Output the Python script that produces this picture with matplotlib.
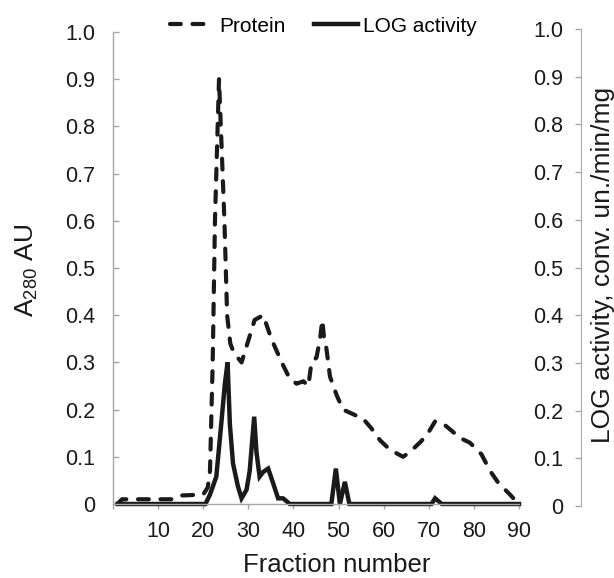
import matplotlib
matplotlib.use('Agg')
import matplotlib.pyplot as plt
from matplotlib.lines import Line2D

plt.rcParams['font.family'] = ['Liberation Sans', 'DejaVu Sans']

# protein elution profile (A280)
prot_x = [1, 2, 13, 15, 20, 21, 21.5, 22.1, 22.6, 23.5, 24.7, 25.3, 26.0, 26.8, 28.5,
          31.4, 33.3, 35.1, 37.4, 39.2, 40.7, 42.2, 43.3, 44.0, 45.1, 45.9, 46.4, 46.8,
          47.3, 48.1, 49.6, 51, 53.3, 55.5, 57.3, 59.2, 61.4, 64.3, 65.8, 68, 69.5, 71.4,
          73.2, 75.1, 76.9, 79.1, 81.7, 83.6, 85.4, 88, 89.9]
prot_y = [0.0, 0.01, 0.01, 0.018, 0.02, 0.035, 0.07, 0.3, 0.6, 0.9, 0.6, 0.4, 0.34, 0.32, 0.30,
          0.39, 0.40, 0.35, 0.30, 0.265, 0.255, 0.26, 0.25, 0.30, 0.31, 0.35, 0.39, 0.35,
          0.33, 0.27, 0.23, 0.20, 0.19, 0.18, 0.16, 0.135, 0.115, 0.10, 0.11, 0.13, 0.145, 0.175,
          0.17, 0.155, 0.14, 0.13, 0.105, 0.07, 0.045, 0.02, 0.0]

# LOG activity
log_x = [1, 20.5, 21.5, 22.9, 24, 24.8, 25.4, 25.9, 26.6, 27.7, 28.5, 29.6, 30.3, 31.3, 31.8,
         32.5, 33.3, 34.4, 35.5, 36.6, 37.7, 39.2, 48.4, 49.4, 50.3, 51.4, 52.4, 70.6, 71.4,
         72.9, 90]
log_y = [0, 0, 0.02, 0.058, 0.17, 0.255, 0.30, 0.17, 0.086, 0.037, 0.012, 0.03, 0.07, 0.185, 0.11,
         0.058, 0.068, 0.075, 0.044, 0.012, 0.012, 0, 0, 0.075, 0, 0.047, 0, 0, 0.012,
         0, 0]

x_ticks = [0, 10, 20, 30, 40, 50, 60, 70, 80, 90]
x_ticklabels = ['', '10', '20', '30', '40', '50', '60', '70', '80', '90']
y_ticks = [0, 0.1, 0.2, 0.3, 0.4, 0.5, 0.6, 0.7, 0.8, 0.9, 1.0]
y_ticklabels = ['0', '0.1', '0.2', '0.3', '0.4', '0.5', '0.6', '0.7', '0.8', '0.9', '1.0']

W, H = 614, 578
fig = plt.figure(figsize=(W / 100, H / 100), dpi=100)
ax = fig.add_axes([113 / W, 1 - 504 / H, (519 - 113) / W, (504 - 32) / H])

spine_col = '#a6a6a6'
dash = (0, (2.6, 2.8))
ax.plot(prot_x, prot_y, color='#1a1a1a', lw=3.0, linestyle=dash,
        dash_capstyle='round', solid_joinstyle='round', clip_on=False)
ax.plot(log_x, log_y, color='#1a1a1a', lw=3.2, solid_joinstyle='miter', clip_on=False)

ax.set_xlim(0, 90)
ax.set_ylim(0, 1.0)
ax.set_xticks(x_ticks)
ax.set_xticklabels(x_ticklabels)
ax.set_yticks(y_ticks)
ax.set_yticklabels(y_ticklabels)
for s in ['top', 'right']:
    ax.spines[s].set_visible(False)
for s in ['left', 'bottom']:
    ax.spines[s].set_color(spine_col)
    ax.spines[s].set_linewidth(1.0)
ax.tick_params(axis='y', direction='in', length=4.3, width=1.0, color=spine_col,
               pad=13, labelsize=15.5, labelcolor='#1a1a1a')
ax.tick_params(axis='x', direction='out', length=3.6, width=1.0, color=spine_col,
               pad=8.6, labelsize=15.5, labelcolor='#1a1a1a')

# separate right-hand scale for the activity
ax2 = fig.add_axes([581 / W, 1 - 506 / H, 0.0001, (506 - 29) / H])
ax2.set_ylim(0, 1.0)
ax2.set_xticks([])
ax2.set_yticks(y_ticks)
ax2.set_yticklabels(y_ticklabels)
for s in ['top', 'right', 'bottom']:
    ax2.spines[s].set_visible(False)
ax2.spines['left'].set_color(spine_col)
ax2.patch.set_visible(False)
ax2.tick_params(axis='y', direction='out', length=4.3, width=1.0, color=spine_col,
                pad=8.6, labelsize=15.5, labelcolor='#1a1a1a')

fig.text(33 / W, 1 - 270 / H, r'A$_{\mathregular{280}}$ AU', rotation=90,
         rotation_mode='anchor', ha='center', va='baseline', fontsize=19, color='#1a1a1a')
fig.text(610 / W, 1 - 265 / H, 'LOG activity, conv. un./min/mg', rotation=90,
         rotation_mode='anchor', ha='center', va='baseline', fontsize=19, color='#1a1a1a')
fig.text(337 / W, 1 - 572 / H, 'Fraction number', ha='center', va='baseline',
         fontsize=18.5, color='#1a1a1a')

handles = [Line2D([], [], color='#1a1a1a', lw=3.0, linestyle=dash, dash_capstyle='round'),
           Line2D([], [], color='#1a1a1a', lw=3.2)]
fig.legend(handles, ['Protein', 'LOG activity'], loc='center', bbox_to_anchor=(0.527, 1 - 26 / H),
           ncol=2, frameon=False, fontsize=15, handlelength=2.1, handletextpad=0.25,
           columnspacing=1.4, borderaxespad=0)

fig.savefig('out.png', dpi=100)
